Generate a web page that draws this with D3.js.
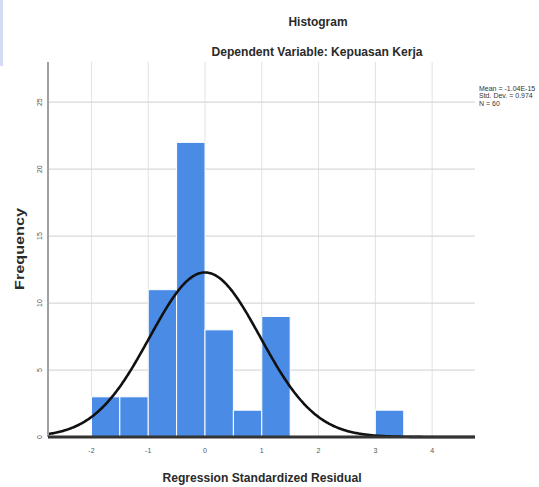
<!DOCTYPE html>
<html><head><meta charset="utf-8">
<script src="https://cdn.jsdelivr.net/npm/d3@7"></script>
<style>html,body{margin:0;padding:0;background:#fff;}svg{display:block;}</style>
</head><body>
<svg id="chart" width="539" height="487"></svg>
<script>
// Histogram data: bin lower edges (width 0.5) and frequencies
const binStarts = [-2, -1.5, -1, -0.5, 0, 0.5, 1, 3];
const binWidth = 0.5;
const frequencies = [3, 3, 11, 22, 8, 2, 9, 2];
const xTicks = [-2, -1, 0, 1, 2, 3, 4];
const yTicks = [0, 5, 10, 15, 20, 25];
const statMean = -1.04e-15;
const statSd = 0.974;
const statN = 60;
const legendLines = ["Mean = -1.04E-15", "Std. Dev. = 0.974", "N = 60"];

(function(){
const svg = d3.select("#chart");
const pL = 48, pR = 475, pT = 62, pB = 437;
const x = d3.scaleLinear().domain([-2.765, 4.755]).range([pL, pR]);
const y = d3.scaleLinear().domain([0, 28]).range([pB, pT]);

svg.append("rect").attr("x",0).attr("y",0).attr("width",3).attr("height",66).attr("fill","#d3dcf3");

// grid
svg.append("g").selectAll("line").data(xTicks).join("line")
  .attr("x1",d=>x(d)).attr("x2",d=>x(d)).attr("y1",pT).attr("y2",pB)
  .attr("stroke","#e2e2e2").attr("stroke-width",1);
svg.append("g").selectAll("line").data(yTicks.filter(d=>d>0)).join("line")
  .attr("x1",pL).attr("x2",pR).attr("y1",d=>y(d)).attr("y2",d=>y(d))
  .attr("stroke","#d8d8d8").attr("stroke-width",1.2);

// bars
svg.append("g").selectAll("rect").data(binStarts).join("rect")
  .attr("x",(d)=>x(d))
  .attr("width",d=>x(d+binWidth)-x(d))
  .attr("y",(d,i)=>y(frequencies[i]))
  .attr("height",(d,i)=>y(0)-y(frequencies[i]))
  .attr("fill","#4a8be6").attr("stroke","#fff").attr("stroke-width",1);

// normal curve
const dens = v => statN*binWidth/(statSd*Math.sqrt(2*Math.PI))*Math.exp(-0.5*((v-statMean)/statSd)**2);
const dom = x.domain();
const xs = d3.range(0, 401).map(i => dom[0] + i*(dom[1]-dom[0])/400);
svg.append("path").datum(xs)
  .attr("d", d3.line().x(d=>x(d)).y(d=>y(dens(d))))
  .attr("fill","none").attr("stroke","#111").attr("stroke-width",2.6);

// axes
svg.append("line").attr("x1",pL).attr("x2",pL).attr("y1",pT).attr("y2",pB)
  .attr("stroke","#a0a0a0").attr("stroke-width",2);
svg.append("line").attr("x1",pL).attr("x2",pR).attr("y1",pB).attr("y2",pB)
  .attr("stroke","#333").attr("stroke-width",3);

const ff = "Liberation Sans, Arial, sans-serif";
// tick labels
svg.append("g").selectAll("text").data(xTicks).join("text")
  .attr("x",d=>x(d)).attr("y",453).attr("text-anchor","middle")
  .attr("font-family",ff).attr("font-size",7).attr("fill","#555")
  .text(d=>d);
svg.append("g").selectAll("text").data(yTicks).join("text")
  .attr("transform",d=>`translate(42,${y(d)}) rotate(-90)`).attr("text-anchor","middle")
  .attr("font-family",ff).attr("font-size",7).attr("fill","#555")
  .text(d=>d);

// titles
svg.append("text").attr("x",318).attr("y",26).attr("text-anchor","middle")
  .attr("font-family",ff).attr("font-size",12).attr("font-weight","bold").attr("fill","#2a2a2a").attr("textLength",59).attr("lengthAdjust","spacingAndGlyphs")
  .text("Histogram");
svg.append("text").attr("x",317).attr("y",56).attr("text-anchor","middle")
  .attr("font-family",ff).attr("font-size",12).attr("font-weight","bold").attr("fill","#2a2a2a").attr("textLength",211).attr("lengthAdjust","spacingAndGlyphs")
  .text("Dependent Variable: Kepuasan Kerja");
svg.append("text").attr("x",262).attr("y",482).attr("text-anchor","middle")
  .attr("font-family",ff).attr("font-size",12).attr("font-weight","bold").attr("fill","#2a2a2a").attr("textLength",199).attr("lengthAdjust","spacingAndGlyphs")
  .text("Regression Standardized Residual");
svg.append("text").attr("transform","translate(24,249) rotate(-90)").attr("text-anchor","middle")
  .attr("font-family",ff).attr("font-size",12).attr("font-weight","bold").attr("fill","#2a2a2a").attr("textLength",82).attr("lengthAdjust","spacingAndGlyphs")
  .text("Frequency");

// legend stats
svg.append("g").selectAll("text").data(legendLines).join("text")
  .attr("x",479).attr("y",(d,i)=>90.5+i*7.6)
  .attr("font-family",ff).attr("font-size",7).attr("fill","#333")
  .text(d=>d);
})();
</script>
</body></html>
